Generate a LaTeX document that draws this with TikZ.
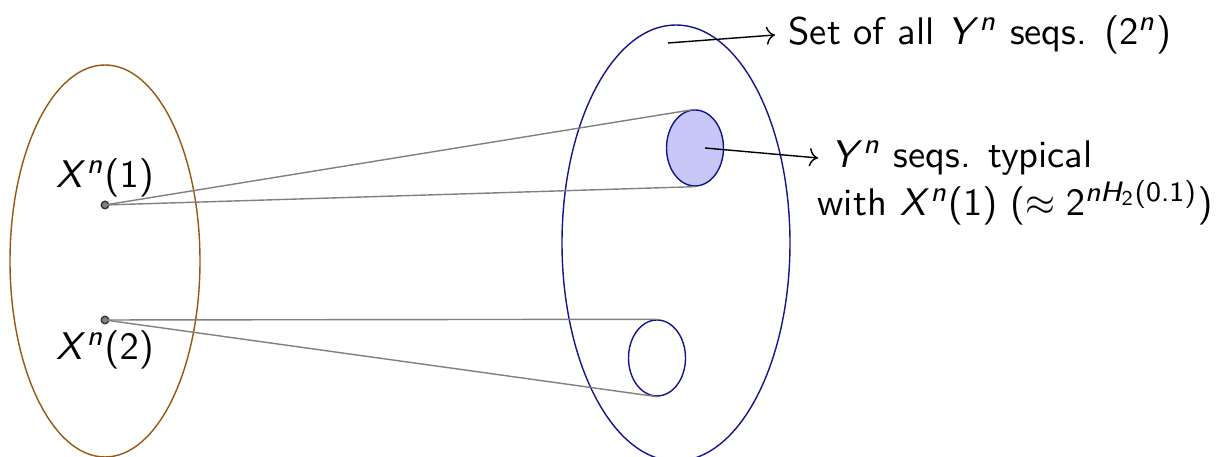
\documentclass[tikz,border=0pt,11pt]{standalone}
\usetikzlibrary{positioning,arrows.meta,shapes.geometric}
\definecolor{setbrown}{HTML}{98560F}
\definecolor{setblue}{HTML}{14148C}
\definecolor{typfill}{HTML}{C8C8F8}
% sans-serif math, as in slides
\DeclareSymbolFont{sfit}{OT1}{cmss}{m}{sl}
\DeclareSymbolFont{sfup}{OT1}{cmss}{m}{n}
\DeclareMathSymbol{X}{\mathalpha}{sfit}{`X}
\DeclareMathSymbol{Y}{\mathalpha}{sfit}{`Y}
\DeclareMathSymbol{H}{\mathalpha}{sfit}{`H}
\DeclareMathSymbol{n}{\mathalpha}{sfit}{`n}
\DeclareMathSymbol{0}{\mathord}{sfup}{`0}
\DeclareMathSymbol{1}{\mathord}{sfup}{`1}
\DeclareMathSymbol{2}{\mathord}{sfup}{`2}
\DeclareMathSymbol{.}{\mathord}{sfup}{`.}
\DeclareMathSymbol{(}{\mathopen}{sfup}{`(}
\DeclareMathSymbol{)}{\mathclose}{sfup}{`)}

\begin{document}
\begin{tikzpicture}[
  x=0.1mm,y=-0.1mm,
  >=To,
  every node/.style={font=\sffamily},
  bigset/.style={draw,ellipse,inner sep=0pt},
  typset/.style={draw=setblue,ellipse,inner sep=0pt,minimum width=5.7mm,minimum height=7.6mm},
  seqdot/.style={circle,draw=black!80,fill=gray,inner sep=0pt,minimum size=0.75mm},
  link/.style={gray}
]
\useasboundingbox (0,0) rectangle (1222,457);
% input side
\node[bigset,draw=setbrown,minimum width=19mm,minimum height=39.2mm] (xset) at (105,261) {};
\node[seqdot] (x1) at (105,205) {};
\node[seqdot] (x2) at (105,320) {};
\node (x1lab) at (105,178) {$X^n(1)$};
\node (x2lab) at (105,350) {$X^n(2)$};
% output side
\node[bigset,draw=setblue,minimum width=22.8mm,minimum height=43.6mm] (yset) at (676,243) {};
\node[typset,fill=typfill] (typ1) at (695,148) {};
\node[typset] (typ2) at (657,358) {};
\draw[link] (x1.center) -- (typ1.north);
\draw[link] (x1.center) -- (typ1.south);
\draw[link] (x2.center) -- (typ2.north);
\draw[link] (x2.center) -- (typ2.south);
% labels
\coordinate (allsrc) at (668,43);
\node[anchor=west] (alllab) at (775,35) {Set of all $Y^n$ seqs. $(2^n)$};
\draw[->] (allsrc) -- (alllab.west);
\coordinate (typsrc) at (705,148);
\coordinate (typtip) at (818,158);
\node[anchor=north west,align=left,inner sep=0pt] (typlab) at (817,140)
  {\hspace{0.35em}$Y^n$ seqs. typical\\ with $X^n(1)$ $(\approx 2^{nH_2(0.1)})$};
\draw[->] (typsrc) -- (typtip);
\end{tikzpicture}
\end{document}
